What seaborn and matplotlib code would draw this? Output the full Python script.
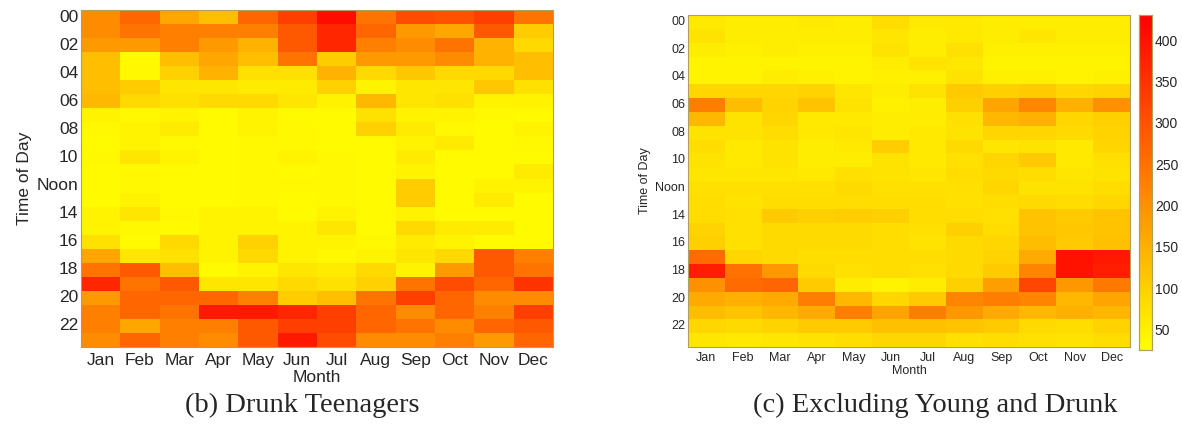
import numpy as np
import pandas as pd
import matplotlib
matplotlib.use('Agg')
import matplotlib.pyplot as plt
import seaborn as sns

sns.set_style('white')
plt.rcParams['font.family'] = ['Liberation Sans', 'DejaVu Sans']

months = ['Jan', 'Feb', 'Mar', 'Apr', 'May', 'Jun', 'Jul', 'Aug', 'Sep', 'Oct', 'Nov', 'Dec']
hour_labels = ['00', '02', '04', '06', '08', '10', 'Noon', '14', '16', '18', '20', '22']

# (b) drunk teenagers -- relative intensity, 24 hours x 12 months
teen_vals = [
    [0.45, 0.60, 0.35, 0.25, 0.60, 0.75, 0.95, 0.55, 0.70, 0.68, 0.75, 0.55],
    [0.45, 0.55, 0.50, 0.50, 0.50, 0.65, 0.85, 0.60, 0.40, 0.35, 0.65, 0.20],
    [0.40, 0.40, 0.50, 0.40, 0.30, 0.65, 0.85, 0.50, 0.45, 0.55, 0.30, 0.15],
    [0.25, 0.02, 0.25, 0.35, 0.25, 0.55, 0.20, 0.40, 0.40, 0.45, 0.30, 0.25],
    [0.25, 0.03, 0.18, 0.30, 0.12, 0.12, 0.30, 0.15, 0.22, 0.15, 0.15, 0.25],
    [0.25, 0.20, 0.10, 0.10, 0.08, 0.08, 0.18, 0.05, 0.10, 0.10, 0.22, 0.12],
    [0.28, 0.15, 0.12, 0.15, 0.15, 0.10, 0.05, 0.28, 0.10, 0.12, 0.05, 0.05],
    [0.05, 0.03, 0.05, 0.02, 0.05, 0.02, 0.02, 0.12, 0.05, 0.05, 0.03, 0.02],
    [0.03, 0.05, 0.08, 0.02, 0.05, 0.03, 0.02, 0.18, 0.08, 0.03, 0.02, 0.05],
    [0.02, 0.05, 0.03, 0.02, 0.03, 0.03, 0.02, 0.02, 0.05, 0.08, 0.02, 0.03],
    [0.03, 0.10, 0.05, 0.02, 0.03, 0.05, 0.03, 0.02, 0.08, 0.02, 0.02, 0.02],
    [0.02, 0.03, 0.02, 0.02, 0.03, 0.02, 0.03, 0.02, 0.05, 0.02, 0.02, 0.08],
    [0.02, 0.03, 0.02, 0.02, 0.03, 0.03, 0.03, 0.02, 0.20, 0.02, 0.05, 0.05],
    [0.02, 0.05, 0.02, 0.02, 0.03, 0.02, 0.03, 0.02, 0.20, 0.02, 0.08, 0.02],
    [0.05, 0.10, 0.03, 0.05, 0.05, 0.02, 0.05, 0.02, 0.05, 0.02, 0.02, 0.02],
    [0.05, 0.03, 0.02, 0.05, 0.05, 0.05, 0.10, 0.02, 0.15, 0.08, 0.08, 0.02],
    [0.12, 0.02, 0.15, 0.05, 0.18, 0.05, 0.05, 0.03, 0.08, 0.05, 0.02, 0.02],
    [0.35, 0.10, 0.12, 0.05, 0.15, 0.05, 0.03, 0.05, 0.10, 0.15, 0.65, 0.50],
    [0.55, 0.65, 0.25, 0.02, 0.05, 0.10, 0.08, 0.15, 0.05, 0.40, 0.65, 0.55],
    [0.85, 0.55, 0.65, 0.10, 0.10, 0.15, 0.12, 0.18, 0.55, 0.70, 0.60, 0.80],
    [0.40, 0.60, 0.60, 0.60, 0.50, 0.20, 0.25, 0.55, 0.75, 0.60, 0.45, 0.45],
    [0.50, 0.60, 0.55, 0.90, 0.90, 0.85, 0.75, 0.60, 0.45, 0.60, 0.50, 0.75],
    [0.50, 0.35, 0.50, 0.50, 0.65, 0.75, 0.75, 0.60, 0.55, 0.45, 0.60, 0.65],
    [0.45, 0.60, 0.50, 0.45, 0.65, 0.90, 0.70, 0.45, 0.45, 0.50, 0.40, 0.60],
]

# (c) excluding young and drunk -- counts, 24 hours x 12 months
other_vals = [
    [60, 55, 55, 60, 55, 80, 60, 60, 55, 55, 55, 55],
    [70, 55, 55, 55, 55, 65, 55, 60, 55, 65, 55, 55],
    [55, 50, 55, 50, 50, 70, 55, 75, 50, 50, 50, 50],
    [45, 45, 45, 45, 45, 55, 70, 65, 45, 45, 45, 45],
    [45, 45, 55, 50, 45, 50, 50, 70, 50, 50, 45, 50],
    [90, 90, 90, 95, 65, 55, 70, 110, 100, 110, 90, 95],
    [230, 130, 95, 120, 70, 50, 55, 100, 170, 215, 150, 200],
    [140, 70, 90, 60, 60, 55, 55, 75, 140, 150, 90, 100],
    [70, 70, 80, 60, 65, 55, 60, 70, 90, 90, 85, 95],
    [80, 60, 70, 55, 60, 105, 60, 85, 65, 70, 60, 90],
    [70, 60, 70, 55, 55, 70, 60, 75, 90, 110, 60, 75],
    [65, 65, 65, 60, 75, 70, 65, 80, 85, 80, 65, 70],
    [75, 75, 75, 75, 85, 75, 75, 75, 90, 70, 70, 80],
    [80, 70, 80, 80, 80, 80, 80, 75, 80, 85, 80, 90],
    [80, 75, 110, 100, 105, 100, 80, 80, 75, 120, 110, 120],
    [95, 75, 85, 85, 85, 80, 75, 100, 80, 120, 115, 120],
    [100, 75, 85, 85, 85, 80, 70, 85, 90, 130, 110, 125],
    [260, 90, 85, 80, 80, 80, 80, 85, 95, 160, 400, 390],
    [380, 250, 190, 85, 75, 80, 75, 85, 110, 220, 400, 380],
    [200, 260, 270, 110, 55, 45, 55, 100, 180, 320, 190, 240],
    [160, 150, 160, 230, 140, 90, 110, 220, 230, 220, 140, 170],
    [130, 120, 140, 160, 230, 170, 230, 190, 160, 140, 150, 140],
    [90, 85, 95, 110, 110, 125, 125, 120, 110, 85, 80, 95],
    [65, 60, 65, 70, 80, 90, 90, 75, 80, 75, 70, 80],
]

hours = ['%02d' % h for h in range(24)]
teen_df = pd.DataFrame(teen_vals, index=hours, columns=months)
other_df = pd.DataFrame(other_vals, index=hours, columns=months)

fig = plt.figure(figsize=(11.82, 4.25), dpi=100)
ax1 = fig.add_axes([0.0685, 0.1835, 0.3993, 0.793])
ax2 = fig.add_axes([0.582, 0.1835, 0.374, 0.781])
cax = fig.add_axes([0.9636, 0.176, 0.011, 0.788])

sns.heatmap(teen_df, ax=ax1, cmap='autumn_r', vmin=0, vmax=1, cbar=False)
sns.heatmap(other_df, ax=ax2, cmap='autumn_r', vmin=25, vmax=430, cbar_ax=cax,
            cbar_kws={'ticks': [50, 100, 150, 200, 250, 300, 350, 400]})


def style_axes(ax, fs, xpad, lpad):
    ax.set_xticks(np.arange(12) + 0.5)
    ax.set_xticklabels(months, rotation=0, fontsize=fs)
    ax.set_yticks(np.arange(0, 24, 2) + 0.5)
    ax.set_yticklabels(hour_labels, rotation=0, fontsize=fs)
    ax.tick_params(direction='in', length=3, width=0.6, color='#333333',
                   top=True, right=True, bottom=True, left=True, pad=2)
    ax.tick_params(axis='x', pad=xpad)
    ax.set_xlabel('Month', fontsize=fs, labelpad=lpad)
    ax.set_ylabel('Time of Day', fontsize=fs, labelpad=3)
    for s in ax.spines.values():
        s.set_visible(True)
        s.set_color('#b0a060')
        s.set_linewidth(0.8)


style_axes(ax1, 12.5, 4.5, 1.5)
style_axes(ax2, 9, 3.5, 0.5)

cax.tick_params(direction='in', length=3, width=0.6, labelsize=10, pad=2)
for s in cax.spines.values():
    s.set_visible(True)
    s.set_color('#b0a060')
    s.set_linewidth(0.8)

fig.text(0.256, 0.045, '(b) Drunk Teenagers', ha='center', va='center',
         fontsize=20.5, family='Liberation Serif')
fig.text(0.791, 0.045, '(c) Excluding Young and Drunk', ha='center', va='center',
         fontsize=20.5, family='Liberation Serif')

fig.savefig('out.png', dpi=100)
